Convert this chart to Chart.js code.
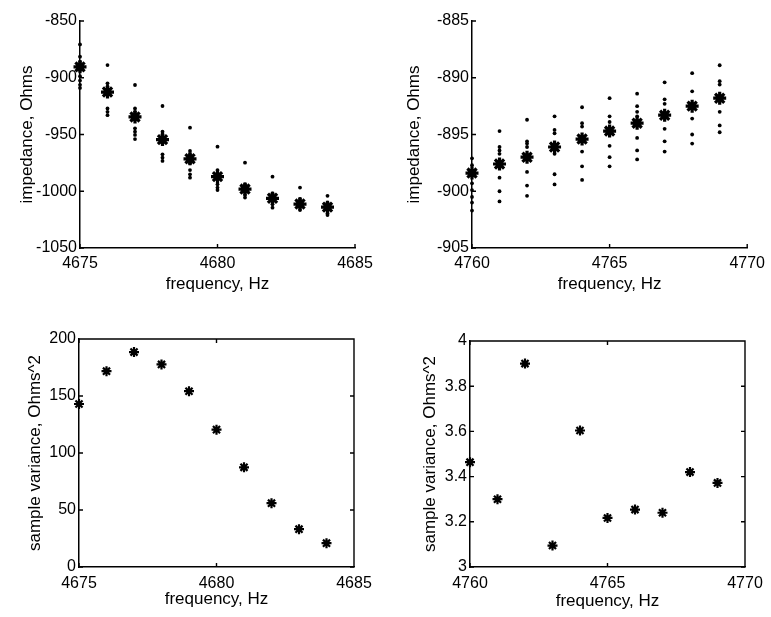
<!DOCTYPE html>
<html>
<head>
<meta charset="utf-8">
<script src="https://cdn.jsdelivr.net/npm/chart.js@4/dist/chart.umd.min.js"></script>
<style>
  body { margin: 0; background: #fff; }
  #wrap { position: relative; width: 771px; height: 617px; }
  canvas { position: absolute; }
</style>
</head>
<body>
<div id="wrap">
  <canvas id="tl" width="385" height="300" style="left:0;top:0"></canvas>
  <canvas id="tr" width="386" height="300" style="left:385px;top:0"></canvas>
  <canvas id="bl" width="385" height="317" style="left:0;top:300px"></canvas>
  <canvas id="br" width="386" height="317" style="left:385px;top:300px"></canvas>
</div>
<script>
// frequencies (Hz)
const lowFreq = [4675, 4676, 4677, 4678, 4679, 4680, 4681, 4682, 4683, 4684];
const highFreq = [4760, 4761, 4762, 4763, 4764, 4765, 4766, 4767, 4768, 4769];

// mean impedance (Ohms) -- the big markers
const lowMean = [-890.4, -912.6, -934.5, -954.5, -971.4, -987.1, -998.1, -1006.2, -1011.3, -1014.0];
const highMean = [-898.4, -897.6, -897.0, -896.1, -895.4, -894.7, -894.0, -893.3, -892.5, -891.8];

// individual samples (Ohms) -- the small dots
const lowSamples = [
  [-870.6, -881.4, -886.0, -893.5, -898.7, -902.5, -906.2, -909.0],
  [-888.8, -904.9, -907.9, -910.5, -927.0, -930.0, -933.0],
  [-906.4, -927.0, -930.0, -944.6, -947.5, -950.4, -954.0],
  [-924.9, -947.5, -949.9, -957.8, -967.5, -970.4, -973.3],
  [-944.0, -964.5, -967.5, -975.4, -981.3, -985.1, -988.0],
  [-960.7, -981.3, -984.2, -990.1, -993.9, -996.8, -998.9],
  [-974.8, -993.9, -1000.4, -1003.3, -1005.6],
  [-987.2, -1001.8, -1008.6, -1011.5, -1014.5],
  [-996.8, -1006.8, -1013.6, -1016.5],
  [-1004.0, -1010.0, -1012.0, -1017.0, -1019.5, -1021.0]
];
const highSamples = [
  [-897.1, -897.7, -899.3, -899.9, -900.5, -901.0, -901.7],
  [-894.7, -896.1, -896.4, -896.7, -898.8, -900.0, -900.9],
  [-893.7, -895.6, -895.8, -896.1, -898.3, -899.5, -900.4],
  [-893.4, -894.6, -894.9, -896.7, -898.5, -899.4],
  [-892.6, -894.0, -894.3, -896.5, -897.8, -899.0],
  [-891.8, -893.4, -893.9, -896.0, -897.0, -897.8],
  [-891.4, -892.5, -893.0, -893.4, -895.3, -896.4, -897.2],
  [-890.4, -891.9, -892.3, -894.5, -895.6, -896.5],
  [-889.6, -891.2, -893.6, -895.0, -895.8],
  [-888.9, -890.3, -890.6, -893.0, -894.2, -894.8]
];

// sample variance (Ohms^2)
const lowVar = [143, 171.8, 188.5, 177.7, 154.2, 120.5, 87.4, 56, 33.2, 20.9];
const highVar = [3.464, 3.30, 3.90, 3.095, 3.604, 3.217, 3.254, 3.24, 3.42, 3.372];

const FONT = '"Liberation Sans", Arial, Helvetica, sans-serif';
Chart.defaults.font.family = FONT;
Chart.defaults.color = '#000';

// matlab-like ticks pointing into the plot, plus top/right border for boxed axes
const inwardTicks = {
  id: 'inwardTicks',
  afterDraw(chart, args, opts) {
    const { ctx, chartArea: a, scales: { x, y } } = chart;
    ctx.save();
    ctx.strokeStyle = '#000';
    ctx.lineWidth = 1.4;
    ctx.beginPath();
    if (opts.box) {
      ctx.moveTo(a.left, a.top); ctx.lineTo(a.right, a.top); ctx.lineTo(a.right, a.bottom);
    }
    y.ticks.forEach(t => {
      const py = y.getPixelForValue(t.value);
      ctx.moveTo(a.left, py); ctx.lineTo(a.left + 4, py);
      if (opts.box) { ctx.moveTo(a.right, py); ctx.lineTo(a.right - 4, py); }
    });
    x.ticks.forEach(t => {
      const px = x.getPixelForValue(t.value);
      ctx.moveTo(px, a.bottom); ctx.lineTo(px, a.bottom - 4);
      if (opts.box) { ctx.moveTo(px, a.top); ctx.lineTo(px, a.top + 4); }
    });
    ctx.stroke();
    ctx.restore();
  }
};

// plain numbers: no thousands separator, no trailing zeros
const plain = v => String(Number(v.toFixed(2)));

function toPoints(freqs, values) {
  return freqs.map((f, i) => ({ x: f, y: values[i] }));
}
function samplePoints(freqs, samples) {
  const pts = [];
  freqs.forEach((f, i) => samples[i].forEach(v => pts.push({ x: f, y: v })));
  return pts;
}

function makeChart(id, cfg) {
  new Chart(document.getElementById(id), {
    type: 'scatter',
    data: { datasets: cfg.datasets },
    options: {
      responsive: false,
      animation: false,
      layout: { padding: cfg.padding },
      plugins: {
        legend: { display: false },
        tooltip: { enabled: false },
        inwardTicks: { box: cfg.box }
      },
      scales: {
        x: {
          type: 'linear',
          min: cfg.xMin, max: cfg.xMax,
          afterFit: s => { s.height = cfg.xHeight; },
          ticks: { stepSize: 5, padding: cfg.xTickPad, maxRotation: 0, font: { size: 16 }, color: '#000', callback: plain },
          grid: { display: false, drawTicks: false },
          border: { display: true, color: '#000', width: 1.5 },
          title: { display: true, text: 'frequency, Hz', font: { size: 17 }, padding: { top: 0, bottom: cfg.xTitlePad }, color: '#000' }
        },
        y: {
          type: 'linear',
          min: cfg.yMin, max: cfg.yMax,
          afterFit: s => { s.width = cfg.yWidth; },
          ticks: { stepSize: cfg.yStep, padding: 3, font: { size: 16 }, color: '#000', callback: plain },
          grid: { display: false, drawTicks: false },
          border: { display: true, color: '#000', width: 1.5 },
          title: { display: true, text: cfg.yTitle, font: { size: 17 }, padding: { top: cfg.yTitlePad, bottom: 0 }, color: '#000' }
        }
      }
    },
    plugins: [inwardTicks]
  });
}

const dotStyle = { pointStyle: 'circle', pointRadius: 1.9, backgroundColor: '#000', borderColor: '#000', borderWidth: 0, clip: false };
const meanStyle = { pointStyle: 'star', pointRadius: 6.5, borderColor: '#000', backgroundColor: '#000', borderWidth: 3.2, clip: false };
const varStyle = { pointStyle: 'star', pointRadius: 5, borderColor: '#000', backgroundColor: '#000', borderWidth: 2.2, clip: false };

makeChart('tl', {
  datasets: [
    Object.assign({ data: samplePoints(lowFreq, lowSamples) }, dotStyle),
    Object.assign({ data: toPoints(lowFreq, lowMean) }, meanStyle)
  ],
  padding: { top: 21, right: 30, left: 0, bottom: 0 },
  xMin: 4675, xMax: 4685, yMin: -1050, yMax: -850, yStep: 50,
  yWidth: 80, xHeight: 52, xTickPad: 6, xTitlePad: 5, yTitlePad: 17,
  yTitle: 'impedance, Ohms', box: false
});

makeChart('tr', {
  datasets: [
    Object.assign({ data: samplePoints(highFreq, highSamples) }, dotStyle),
    Object.assign({ data: toPoints(highFreq, highMean) }, meanStyle)
  ],
  padding: { top: 21, right: 23, left: 0, bottom: 0 },
  xMin: 4760, xMax: 4770, yMin: -905, yMax: -885, yStep: 5,
  yWidth: 87, xHeight: 52, xTickPad: 6, xTitlePad: 5, yTitlePad: 19,
  yTitle: 'impedance, Ohms', box: false
});

makeChart('bl', {
  datasets: [Object.assign({ data: toPoints(lowFreq, lowVar) }, varStyle)],
  padding: { top: 39, right: 31, left: 0, bottom: 0 },
  xMin: 4675, xMax: 4685, yMin: 0, yMax: 200, yStep: 50,
  yWidth: 79, xHeight: 50, xTickPad: 7, xTitlePad: 7, yTitlePad: 25,
  yTitle: 'sample variance, Ohms^2', box: true
});

makeChart('br', {
  datasets: [Object.assign({ data: toPoints(highFreq, highVar) }, varStyle)],
  padding: { top: 41, right: 26, left: 0, bottom: 0 },
  xMin: 4760, xMax: 4770, yMin: 3, yMax: 4, yStep: 0.2,
  yWidth: 85, xHeight: 50, xTickPad: 7, xTitlePad: 5, yTitlePad: 35,
  yTitle: 'sample variance, Ohms^2', box: true
});
</script>
</body>
</html>
